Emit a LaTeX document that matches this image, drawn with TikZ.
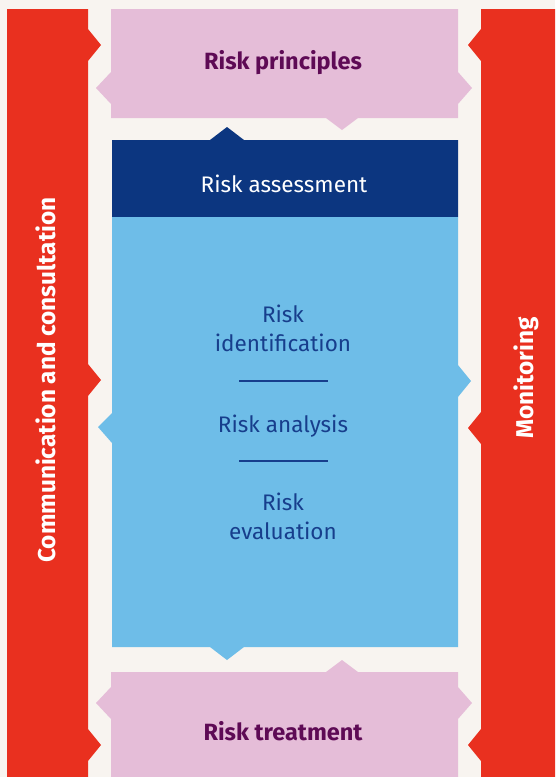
\documentclass[tikz,border=0pt]{standalone}
\usepackage{fontspec}
\setmainfont{Fira Sans}
\usetikzlibrary{positioning}
\definecolor{riskred}{HTML}{E9301F}
\definecolor{riskpink}{HTML}{E5BDD8}
\definecolor{riskdark}{HTML}{0C3680}
\definecolor{risklight}{HTML}{6EBDE8}
\definecolor{riskplum}{HTML}{5E0A55}
\definecolor{riskink}{HTML}{173E8C}
\definecolor{riskpaper}{HTML}{F8F4F0}
\tikzset{
bar/.style={fill=riskred}, % the two red side bars
panel/.style={fill=riskpink}, % the pink principles and treatment boxes
header/.style={fill=riskdark}, % the dark blue heading block
body/.style={fill=risklight}, % the light blue block holding the steps
label/.style={inner sep=0pt, anchor=base, align=center}, % every text sits on its (last) baseline
bartext/.style={label, rotate=90, text=white, font=\fontsize{24.3}{28}\selectfont\bfseries}, % upright text in the side bars
paneltext/.style={label, text=riskplum, font=\fontsize{23.5}{28}\selectfont\bfseries}, % text in the pink boxes
steptext/.style={label, text=riskink, font=\fontsize{22.5}{29}\selectfont}, % the three steps
}

\begin{document}
\begin{tikzpicture}[x=1pt, y=-1pt]
        \fill[riskpaper] (0,0) rectangle (555,777);
        \useasboundingbox (0,0) rectangle (555,777);

        % side bars
        \fill[bar] (7,9) -- (88,9) -- (88,29) -- (101,45) -- (88,61) -- (88,364) -- (101,380) -- (88,396)
            -- (88,729) -- (101,745) -- (88,761) -- (88,777) -- (7,777) -- cycle;
        \fill[bar] (481,9) -- (555,9) -- (555,777) -- (481,777) -- (481,761) -- (468,745) -- (481,729)
            -- (481,444) -- (468,428) -- (481,412) -- (481,61) -- (468,45) -- (481,29) -- cycle;

        % pink boxes
        \fill[panel] (111,9) -- (458,9) -- (458,72) -- (472,88) -- (458,104) -- (458,118) -- (358,118)
            -- (342,130) -- (326,118) -- (111,118) -- (111,104) -- (96,88) -- (111,72) -- cycle;
        \fill[panel] (111,672) -- (326,672) -- (342,660) -- (358,672) -- (458,672) -- (458,687) -- (472,703)
            -- (458,719) -- (458,777) -- (111,777) -- (111,719) -- (96,703) -- (111,687) -- cycle;

        % blue blocks
        \fill[header] (112,217) -- (112,140) -- (210,140) -- (227,127) -- (244,140) -- (458,140) -- (458,217) -- cycle;
        \fill[body] (112,217) -- (458,217) -- (458,365) -- (471,381) -- (458,397) -- (458,647) -- (244,647)
            -- (227,660) -- (210,647) -- (112,647) -- (112,443) -- (98,427) -- (112,413) -- cycle;

        \node[bartext] (communication) at (55,380) {Communication and consultation};
        \node[bartext] (monitoring) at (533,378) {Monitoring};
        \node[paneltext] (principles) at (283,69) {Risk principles};
        \node[paneltext] (treatment) at (283,740) {Risk treatment};
        \node[label, text=white, font=\fontsize{22.5}{28}\selectfont] (assessment) at (284,192) {Risk assessment};
        \node[steptext] (identification) at (283,351) {Risk\\identification};
        \node[steptext] (analysis) at (283,432) {Risk analysis};
        \node[steptext] (evaluation) at (283,539) {Risk\\evaluation};

        \coordinate (upper left) at (239,381);
        \coordinate (upper right) at (328,381);
        \coordinate (lower left) at (239,461);
        \coordinate (lower right) at (328,461);
        \draw[riskink, line width=1.3pt] (upper left) -- (upper right);
        \draw[riskink, line width=1.3pt] (lower left) -- (lower right);
    \end{tikzpicture}
\end{document}
